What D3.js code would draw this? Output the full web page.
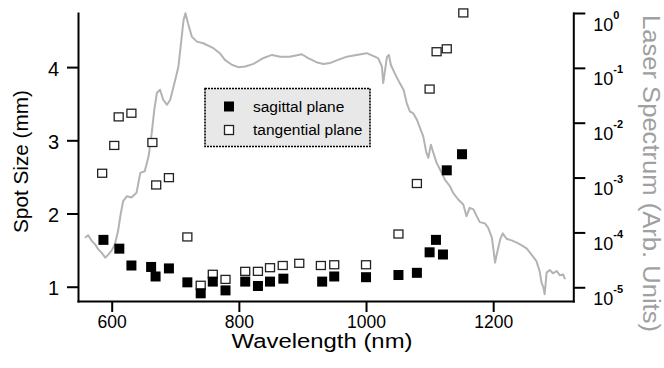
<!DOCTYPE html>
<html>
<head>
<meta charset="utf-8">
<script src="https://cdn.jsdelivr.net/npm/d3@7"></script>
<style>
  html, body { margin: 0; padding: 0; background: #fff; }
  svg { display: block; font-family: "Liberation Sans", Arial, Helvetica, sans-serif; }
</style>
</head>
<body>
<svg id="chart" width="664" height="368"></svg>
<script>
// Spot size measurements (wavelength in nm, spot size in mm)
const sagittalWavelength = [587, 612, 631, 662, 669, 690, 719, 740, 759, 779, 810, 830, 849, 870, 931, 950, 1000, 1051, 1080, 1100, 1110, 1121, 1127, 1151];
const sagittalSize       = [1.64, 1.52, 1.29, 1.27, 1.14, 1.25, 1.06, 0.91, 1.07, 0.95, 1.07, 1.01, 1.07, 1.11, 1.07, 1.14, 1.13, 1.16, 1.19, 1.47, 1.64, 1.44, 2.59, 2.81];

const tangentialWavelength = [585, 604, 611, 631, 664, 670, 690, 719, 740, 759, 779, 810, 830, 849, 869, 895, 929, 950, 1000, 1051, 1080, 1100, 1111, 1127, 1153];
const tangentialSize       = [2.55, 2.93, 3.32, 3.37, 2.97, 2.39, 2.49, 1.68, 1.02, 1.17, 1.10, 1.21, 1.21, 1.26, 1.29, 1.32, 1.29, 1.30, 1.30, 1.72, 2.41, 3.70, 4.21, 4.25, 4.74];

// Laser spectrum: [wavelength (nm), relative intensity]
const spectrum = [
  [558, 8.0e-5], [563, 8.9e-5], [569, 6.95e-5], [574, 6.05e-5], [579, 4.9e-5], [584, 4.28e-5],
  [590, 3.47e-5], [595, 3.98e-5], [600, 4.71e-5], [605, 6.05e-5], [610, 1.06e-4], [614, 2.12e-4],
  [618, 3.71e-4], [624, 4.57e-4], [631, 4.33e-4], [639, 5.27e-4], [645, 1.22e-3], [652, 1.30e-3],
  [658, 2.44e-3], [663, 6.5e-3], [667, 1.72e-2], [671, 3.47e-2], [676, 3.98e-2], [681, 2.62e-2],
  [687, 2.12e-2], [692, 2.62e-2], [700, 6.05e-2], [705, 0.106], [709, 0.281], [713, 0.746],
  [716, 0.989], [720, 0.65], [726, 0.371], [734, 0.301], [744, 0.281], [760, 0.228], [770, 0.185],
  [778, 0.14], [789, 0.114], [799, 0.103], [810, 0.106], [823, 0.118], [838, 0.15], [852, 0.172],
  [865, 0.16], [880, 0.16], [899, 0.177], [909, 0.15], [922, 0.127], [933, 0.118], [943, 0.122],
  [956, 0.14], [970, 0.16], [985, 0.172], [1001, 0.185], [1011, 0.165], [1019, 0.15], [1025, 0.106],
  [1027, 0.0527], [1030, 0.092], [1033, 0.16], [1036, 0.172], [1039, 0.114], [1045, 0.0802],
  [1053, 0.0527], [1059, 0.0398], [1064, 0.0228], [1069, 0.016], [1074, 0.015], [1080, 0.01135],
  [1085, 8.0e-3], [1090, 5.64e-3], [1095, 2.81e-3], [1098, 2.28e-3], [1102, 3.98e-3], [1106, 2.81e-3],
  [1111, 1.85e-3], [1119, 1.22e-3], [1124, 9.2e-4], [1132, 6.95e-4], [1137, 5.27e-4], [1145, 3.98e-4],
  [1153, 3.23e-4], [1158, 1.98e-4], [1163, 2.81e-4], [1169, 2.63e-4], [1174, 1.98e-4], [1179, 1.54e-4],
  [1187, 1.46e-4], [1192, 1.22e-4], [1198, 8.0e-5], [1201, 4.28e-5], [1203, 2.81e-5], [1205, 3.71e-5],
  [1211, 7.46e-5], [1215, 9.6e-5], [1221, 7.67e-5], [1229, 7.16e-5], [1237, 6.5e-5], [1245, 5.81e-5],
  [1253, 5.06e-5], [1260, 3.98e-5], [1268, 3.0e-5], [1273, 1.98e-5], [1276, 1.22e-5], [1279, 9.9e-6],
  [1281, 7.46e-6], [1284, 1.85e-5], [1289, 2.07e-5], [1294, 1.80e-5], [1300, 1.98e-5], [1305, 1.65e-5],
  [1310, 1.72e-5], [1313, 1.40e-5]
];

// Axis ticks
const wavelengthTicks = [600, 800, 1000, 1200];
const sizeTicks = [1, 2, 3, 4];
const spectrumTicks = [1, 1e-1, 1e-2, 1e-3, 1e-4, 1e-5];
const spectrumExponents = ["0", "-1", "-2", "-3", "-4", "-5"];

const legendLabels = ["sagittal plane", "tangential plane"];

const svg = d3.select("#chart");
const plotLeft = 78, plotRight = 573.3, plotTop = 13, plotBottom = 301;

const x = d3.scaleLinear().domain([547, 1326]).range([plotLeft, plotRight]);
const y = d3.scaleLinear().domain([0.805, 4.739]).range([plotBottom, plotTop]);
const yR = d3.scaleLog().domain([5.62e-6, 1]).range([plotBottom, plotTop]);

// Spectrum (right axis)
const line = d3.line().x(d => x(d[0])).y(d => yR(d[1]));
svg.append("path")
  .datum(spectrum)
  .attr("d", line)
  .attr("fill", "none")
  .attr("stroke", "#b3b3b3")
  .attr("stroke-width", 2)
  .attr("stroke-linejoin", "round");

// Spot size markers
const sag = sagittalWavelength.map((w, i) => [w, sagittalSize[i]]);
const tan = tangentialWavelength.map((w, i) => [w, tangentialSize[i]]);

svg.append("g").selectAll("rect")
  .data(tan).enter().append("rect")
  .attr("x", d => x(d[0]) - 4.5)
  .attr("y", d => y(d[1]) - 4)
  .attr("width", 9).attr("height", 8)
  .attr("fill", "#fff")
  .attr("stroke", "#222")
  .attr("stroke-width", 1.3);

svg.append("g").selectAll("rect")
  .data(sag).enter().append("rect")
  .attr("x", d => x(d[0]) - 5)
  .attr("y", d => y(d[1]) - 5)
  .attr("width", 10).attr("height", 10)
  .attr("fill", "#000");

// Bottom axis
const ax = svg.append("g")
  .attr("transform", `translate(0,${plotBottom})`)
  .call(d3.axisBottom(x).tickValues(wavelengthTicks).tickSize(11).tickSizeOuter(0).tickFormat(d3.format("d")));
ax.selectAll("text").attr("y", 26.5).attr("dy", null).attr("font-size", 17.5).attr("fill", "#000");

// Left axis
const ay = svg.append("g")
  .attr("transform", `translate(${plotLeft},0)`)
  .call(d3.axisLeft(y).tickValues(sizeTicks).tickSize(11).tickSizeOuter(0).tickFormat(d3.format("d")));
ay.selectAll("text").attr("x", -19).attr("dy", "0.4em").attr("font-size", 20).attr("fill", "#000");

// Right axis
const ar = svg.append("g")
  .attr("transform", `translate(${plotRight},0)`)
  .call(d3.axisRight(yR).tickValues(spectrumTicks).tickSize(12).tickSizeOuter(0).tickFormat(""));
ar.selectAll(".tick text").remove();
ar.selectAll(".tick").each(function(d, i) {
  const t = d3.select(this).append("text")
    .attr("x", 20).attr("y", 17)
    .attr("fill", "#000").attr("font-size", 18)
    .attr("text-anchor", "start");
  t.append("tspan").text("10");
  t.append("tspan").attr("dy", -12).attr("font-size", 11).attr("font-weight", "bold")
    .text(spectrumExponents[i]);
});

svg.selectAll(".domain, .tick line").attr("stroke", "#000").attr("stroke-width", 2);
svg.selectAll(".domain").attr("stroke-linecap", "square");

// Axis titles
svg.append("text")
  .attr("x", 322).attr("y", 348)
  .attr("text-anchor", "middle")
  .attr("font-size", 19.5)
  .attr("textLength", 181).attr("lengthAdjust", "spacingAndGlyphs")
  .text("Wavelength (nm)");

svg.append("text")
  .attr("transform", "translate(28,161.5) rotate(-90)")
  .attr("text-anchor", "middle")
  .attr("font-size", 21)
  .attr("textLength", 143).attr("lengthAdjust", "spacingAndGlyphs")
  .text("Spot Size (mm)");

svg.append("text")
  .attr("transform", "translate(643,173.5) rotate(90)")
  .attr("text-anchor", "middle")
  .attr("font-size", 23)
  .attr("fill", "#a0a0a0")
  .attr("textLength", 317).attr("lengthAdjust", "spacingAndGlyphs")
  .text("Laser Spectrum (Arb. Units)");

// Legend
const lg = svg.append("g");
lg.append("rect")
  .attr("x", 205).attr("y", 88.5).attr("width", 165).attr("height", 58)
  .attr("fill", "#e8e8e8")
  .attr("stroke", "#000").attr("stroke-width", 1.6)
  .attr("stroke-dasharray", "2,1");
lg.append("rect").attr("x", 224).attr("y", 101.5).attr("width", 10).attr("height", 10).attr("fill", "#000");
lg.append("rect").attr("x", 224.5).attr("y", 125.5).attr("width", 9).attr("height", 9)
  .attr("fill", "#fff").attr("stroke", "#222").attr("stroke-width", 1.3);
legendLabels.forEach((t, i) => {
  lg.append("text")
    .attr("x", 253).attr("y", 111.5 + i * 23.5)
    .attr("font-size", 15.5)
    .text(t);
});
</script>
</body>
</html>
